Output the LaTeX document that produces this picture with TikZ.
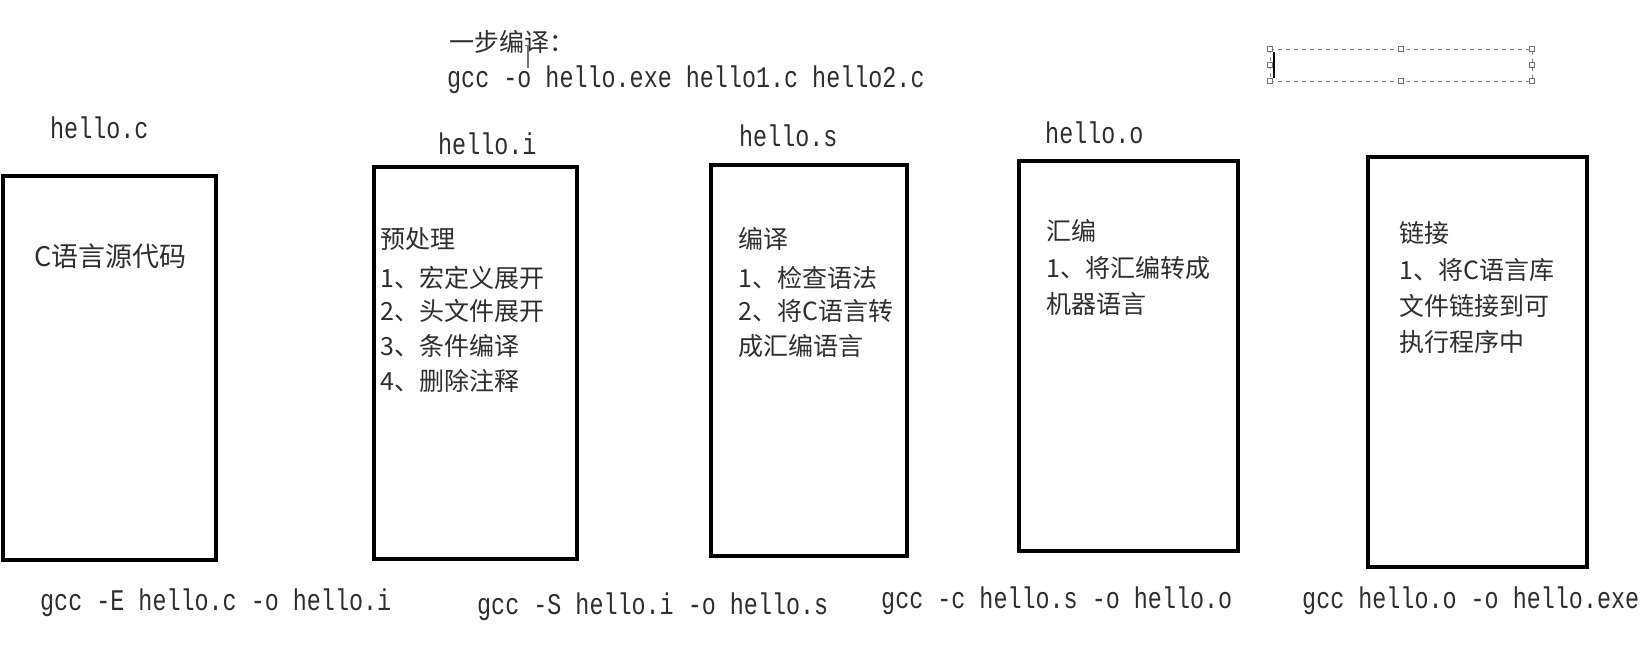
\documentclass[tikz,border=0pt]{standalone}
\usepackage{fontspec}
\setmainfont{Liberation Serif}
\newfontfamily\cjk{Noto Sans CJK SC}
\newfontfamily\codefont[FakeStretch=0.78]{Liberation Mono}
\begin{document}
\begin{tikzpicture}[x=1pt,y=-1pt]
\tikzset{
  box/.style={draw=black, line width=3.8pt, inner sep=0pt},
  cn/.style={font=\cjk\fontsize{25}{30}\selectfont, anchor=base west, inner sep=0pt, text=black!82},
  cnbig/.style={font=\cjk\fontsize{27}{30}\selectfont, anchor=base west, inner sep=0pt, text=black!82},
  code/.style={font=\codefont\fontsize{30}{32}\selectfont, anchor=base west, inner sep=0pt, text=black!82},
  selbox/.style={draw=black!45, line width=1pt, dash pattern=on 4pt off 4pt},
  handle/.style={draw=black!55, fill=white, line width=1pt, minimum size=5pt, inner sep=0pt},
}
\useasboundingbox[fill=white] (0,0) rectangle (1644,653);

% top text
\node[cn] (one) at (449,51) {一步编译：};
\node[code] (onecmd) at (447,87) {gcc -o hello.exe hello1.c hello2.c};
% I-beam cursor
\coordinate (ib1) at (528,45);
\coordinate (ib2) at (528,68);
\draw[black!55, line width=1.2pt] (ib1) -- (ib2);
\draw[black!55, line width=1pt] ([xshift=-3pt]ib1) -- ([xshift=3pt]ib1);

% selection frame
\coordinate (s1) at (1270,49);
\coordinate (s2) at (1532,81);
\draw[selbox] (s1) rectangle (s2);
\foreach \p/\q in {1270/49,1401/49,1532/49,1270/65,1532/65,1270/81,1401/81,1532/81}
  \node[handle] at (\p,\q) {};
\coordinate (c1) at (1274,52);
\coordinate (c2) at (1274,78);
\draw[black, line width=1.5pt] (c1) -- (c2);

% file names
\node[code] (fc) at (50,138) {hello.c};
\node[code] (fi) at (438,154) {hello.i};
\node[code] (fs) at (739,146) {hello.s};
\node[code] (fo) at (1045,143) {hello.o};

% boxes
\node[box, minimum width=213pt, minimum height=384pt] (b1) at (109.5,368) {};
\node[box, minimum width=203pt, minimum height=392pt] (b2) at (475.5,363) {};
\node[box, minimum width=196pt, minimum height=391pt] (b3) at (809,360.5) {};
\node[box, minimum width=219pt, minimum height=390pt] (b4) at (1128.5,356) {};
\node[box, minimum width=219pt, minimum height=410pt] (b5) at (1477.5,362) {};

% box 1
\node[cnbig] (t11) at (34,266) {C语言源代码};
% box 2
\node[cn] (t21) at (380,248.5) {预处理};
\node[cn] (t22) at (380,287.5) {1、宏定义展开};
\node[cn] (t23) at (380,320.5) {2、头文件展开};
\node[cn] (t24) at (380,355.5) {3、条件编译};
\node[cn] (t25) at (380,390.5) {4、删除注释};
% box 3
\node[cn] (t31) at (738,248.5) {编译};
\node[cn] (t32) at (738,287.5) {1、检查语法};
\node[cn] (t33) at (738,320.5) {2、将C语言转};
\node[cn] (t34) at (738,355.5) {成汇编语言};
% box 4
\node[cn] (t41) at (1046,240.5) {汇编};
\node[cn] (t42) at (1046,277.5) {1、将汇编转成};
\node[cn] (t43) at (1046,313.5) {机器语言};
% box 5
\node[cn] (t51) at (1399,242.5) {链接};
\node[cn] (t52) at (1399,279.5) {1、将C语言库};
\node[cn] (t53) at (1399,315.5) {文件链接到可};
\node[cn] (t54) at (1399,351.5) {执行程序中};

% commands
\node[code] (g1) at (40,610) {gcc -E hello.c -o hello.i};
\node[code] (g2) at (477,614) {gcc -S hello.i -o hello.s};
\node[code] (g3) at (881,608) {gcc -c hello.s -o hello.o};
\node[code] (g4) at (1302,608) {gcc hello.o -o hello.exe};
\end{tikzpicture}
\end{document}
